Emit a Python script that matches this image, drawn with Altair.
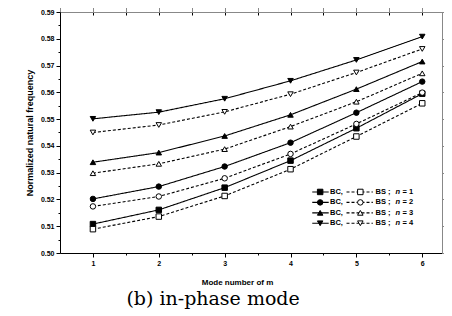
import altair as alt
import pandas as pd

modes = [1, 2, 3, 4, 5, 6]
bc_n1 = [0.5108, 0.5161, 0.5244, 0.5345, 0.5466, 0.5595]
bs_n1 = [0.5089, 0.5136, 0.5213, 0.5313, 0.5435, 0.5559]
bc_n2 = [0.5202, 0.5248, 0.5323, 0.5412, 0.5524, 0.5640]
bs_n2 = [0.5174, 0.5211, 0.5279, 0.5370, 0.5482, 0.5599]
bc_n3 = [0.5339, 0.5375, 0.5437, 0.5516, 0.5612, 0.5715]
bs_n3 = [0.5298, 0.5333, 0.5388, 0.5472, 0.5565, 0.5671]
bc_n4 = [0.5501, 0.5526, 0.5576, 0.5643, 0.5721, 0.5808]
bs_n4 = [0.5450, 0.5478, 0.5527, 0.5593, 0.5674, 0.5762]

y_ticks = [0.50, 0.51, 0.52, 0.53, 0.54, 0.55, 0.56, 0.57, 0.58, 0.59]
y_minor = [0.505, 0.515, 0.525, 0.535, 0.545, 0.555, 0.565, 0.575, 0.585]
x_ticks = [1, 2, 3, 4, 5, 6]
x_minor = [1.5, 2.5, 3.5, 4.5, 5.5]
x_top_ticks = [0.5, 1, 1.5, 2, 2.5, 3, 3.5, 4, 4.5, 5, 5.5, 6]
n_values = [1, 2, 3, 4]

series = {
    (1, "BC"): bc_n1, (1, "BS"): bs_n1,
    (2, "BC"): bc_n2, (2, "BS"): bs_n2,
    (3, "BC"): bc_n3, (3, "BS"): bs_n3,
    (4, "BC"): bc_n4, (4, "BS"): bs_n4,
}
rows = []
for (n, t), vals in series.items():
    for m, v in zip(modes, vals):
        rows.append({"m": m, "f": v, "n": n, "type": t, "key": f"{t}{n}"})
df = pd.DataFrame(rows)

FONT = "Liberation Sans"
xscale = alt.Scale(domain=[0.5, 6.30], nice=False, zero=False)
yscale = alt.Scale(domain=[0.50, 0.59], nice=False, zero=False)
shape_scale = alt.Scale(domain=n_values, range=["square", "circle", "triangle-up", "triangle-down"])
fill_scale = alt.Scale(domain=["BC", "BS"], range=["black", "white"])
dash_scale = alt.Scale(domain=["BC", "BS"], range=[[1, 0], [3, 2]])

x_main = alt.X("m:Q", scale=xscale, axis=alt.Axis(
    values=x_ticks, format="d", tickSize=4, tickColor="black", domainColor="black",
    labelFont=FONT, labelFontSize=7, labelFontWeight="bold", labelColor="black", labelPadding=2,
    grid=False, title="Mode number of m", titleFont=FONT, titleFontSize=8, titleFontWeight="bold",
    titleColor="black", titlePadding=12, titleX=177))
y_main = alt.Y("f:Q", scale=yscale, axis=alt.Axis(
    values=y_ticks, format=".2f", tickSize=4, tickColor="black", domainColor="black",
    labelFont=FONT, labelFontSize=7, labelFontWeight="bold", labelColor="black", labelPadding=2,
    grid=False, title="Normalized natural frequency", titleFont=FONT, titleFontSize=9,
    titleFontWeight="bold", titleColor="black", titlePadding=6))

lines = alt.Chart(df).mark_line(color="black", strokeWidth=1.1).encode(
    x=x_main, y=y_main, detail="key:N",
    strokeDash=alt.StrokeDash("type:N", scale=dash_scale, legend=None))

points = alt.Chart(df).mark_point(filled=True, size=30, stroke="black", strokeWidth=1, opacity=1).encode(
    x=alt.X("m:Q", scale=xscale), y=alt.Y("f:Q", scale=yscale),
    shape=alt.Shape("n:O", scale=shape_scale, legend=None),
    fill=alt.Fill("type:N", scale=fill_scale, legend=None))

# mirrored axes (top / right) with small inward ticks
mirror = alt.Chart(df).mark_point(opacity=0).encode(
    x=alt.X("m:Q", scale=xscale, axis=alt.Axis(orient="top", values=x_top_ticks, offset=-3,
                                               labels=False, tickSize=3, domain=False, title=None, grid=False,
                                               tickColor="black")),
    y=alt.Y("f:Q", scale=yscale, axis=alt.Axis(orient="right", values=y_ticks, labels=False, tickSize=3,
                                               domain=False, title=None, grid=False, tickColor="black")))

# minor ticks on bottom / left
minor = alt.Chart(df).mark_point(opacity=0).encode(
    x=alt.X("m:Q", scale=xscale, axis=alt.Axis(orient="bottom", values=x_minor, labels=False, tickSize=2,
                                               domain=False, title=None, grid=False, tickColor="black")),
    y=alt.Y("f:Q", scale=yscale, axis=alt.Axis(orient="left", values=y_minor, labels=False, tickSize=2,
                                               domain=False, title=None, grid=False, tickColor="black")))

# custom legend
leg_rows = []
for i, n in enumerate(n_values):
    yv = 0.5228 - i * 0.0039
    leg_rows.append({"n": n, "y": yv, "type": "BC", "x1": 4.33, "x2": 4.58, "xm": 4.45, "xt": 4.60, "label": "BC,"})
    leg_rows.append({"n": n, "y": yv, "type": "BS", "x1": 4.85, "x2": 5.25, "xm": 5.06, "xt": 5.29, "label": "BS ;"})
leg = pd.DataFrame(leg_rows)

leg_lines = alt.Chart(leg).mark_rule(color="black", strokeWidth=1.1).encode(
    x=alt.X("x1:Q", scale=xscale), x2="x2:Q", y=alt.Y("y:Q", scale=yscale),
    strokeDash=alt.StrokeDash("type:N", scale=dash_scale, legend=None))
leg_pts = alt.Chart(leg).mark_point(filled=True, size=30, stroke="black", strokeWidth=1, opacity=1).encode(
    x=alt.X("xm:Q", scale=xscale), y=alt.Y("y:Q", scale=yscale),
    shape=alt.Shape("n:O", scale=shape_scale, legend=None),
    fill=alt.Fill("type:N", scale=fill_scale, legend=None))
leg_txt = alt.Chart(leg).mark_text(align="left", baseline="middle", font=FONT, fontSize=7.5,
                                   fontWeight="bold", color="black").encode(
    x=alt.X("xt:Q", scale=xscale), y=alt.Y("y:Q", scale=yscale), text="label:N")
leg_bs = leg[leg["type"] == "BS"]
leg_n = alt.Chart(leg_bs).mark_text(align="left", baseline="middle", font=FONT, fontSize=7.5,
                                    fontWeight="bold", fontStyle="italic", color="black", dx=20).encode(
    x=alt.X("xt:Q", scale=xscale), y=alt.Y("y:Q", scale=yscale), text=alt.value("n"))
leg_eq = alt.Chart(leg_bs).transform_calculate(lab="'=  ' + datum.n").mark_text(
    align="left", baseline="middle", font=FONT, fontSize=7.5, fontWeight="bold", color="black", dx=27).encode(
    x=alt.X("xt:Q", scale=xscale), y=alt.Y("y:Q", scale=yscale), text="lab:N")

chart = alt.layer(lines, points, mirror, minor, leg_lines, leg_pts, leg_txt, leg_n, leg_eq).resolve_axis(
    x="independent", y="independent"
).properties(
    width=382, height=241,
    autosize=alt.AutoSizeParams(type="none"),
    padding={"left": 52, "top": 4, "right": 2, "bottom": 57},
    title=alt.TitleParams("(b)  in-phase  mode", orient="bottom", anchor="start", dx=101, offset=4,
                          font="DejaVu Serif", fontSize=19, fontWeight="normal", color="black"),
).configure_view(stroke="black", strokeWidth=1.2).configure(background="white")

chart.save("out.html", embed_options={"renderer": "svg", "actions": False})
